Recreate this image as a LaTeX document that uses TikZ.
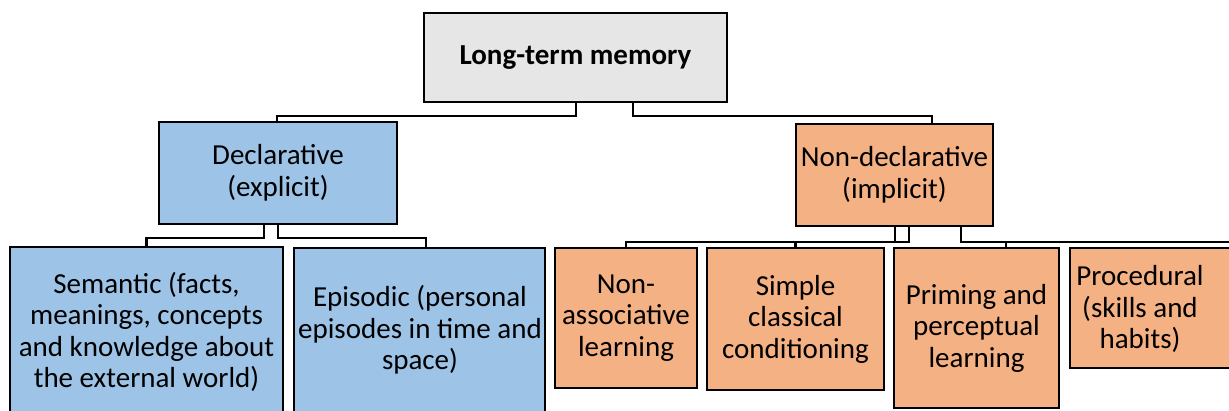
\documentclass[tikz,border=0pt]{standalone}
\usepackage{fontspec}
\setmainfont{Carlito}
\usetikzlibrary{calc}
\definecolor{rootgray}{HTML}{E6E6E6}
\definecolor{declblue}{HTML}{9DC3E6}
\definecolor{implorange}{HTML}{F4B183}

\begin{document}
\begin{tikzpicture}[x=1pt,y=-1pt,
  box/.style={draw=black, line width=2.8pt, inner sep=0pt, align=center,
              font=\fontsize{29}{31.5}\selectfont},
  lbl/.style={inner sep=0pt, align=center, font=\fontsize{29}{31.5}\selectfont},
  link/.style={draw=black, line width=2.1pt}]
\useasboundingbox (0,0) rectangle (1229,410);
\clip (0,0) rectangle (1229,410);

% root
\node[box, fill=rootgray, minimum width=303pt, minimum height=89pt] (ltm) at (575.5,57.5)
  {\bfseries Long-term memory};

% second level
\node[box, fill=declblue, minimum width=238pt, minimum height=102pt] (decl) at (278,173)
  {Declarative\\(explicit)};
\node[box, fill=implorange, minimum width=197pt, minimum height=102pt] (nondecl) at (894.5,175)
  {Non-declarative\\(implicit)};

% declarative branch
\node[box, fill=declblue, minimum width=273pt, minimum height=168pt] (sem) at (146.5,331) {};
\node[lbl] (sem-t) at (146.5,332)
  {Semantic (facts,\\meanings, concepts\\and knowledge about\\the external world)};
\node[box, fill=declblue, minimum width=251pt, minimum height=167pt] (epi) at (419.5,331.5) {};
\node[lbl] (epi-t) at (420,330)
  {Episodic (personal\\episodes in time and\\space)};

% non-declarative branch
\node[box, fill=implorange, minimum width=142pt, minimum height=140pt] (nonassoc) at (626,318)
  {Non-\\associative\\learning};
\node[box, fill=implorange, minimum width=177pt, minimum height=142pt] (classic) at (795.5,319)
  {Simple\\classical\\conditioning};
\node[box, fill=implorange, minimum width=165pt, minimum height=160pt] (priming) at (976.5,328)
  {Priming and\\perceptual\\learning};
\node[box, fill=implorange, minimum width=180pt, minimum height=120pt] (proc) at (1160,308) {};
\node[lbl] (proc-t) at (1140,309)
  {Procedural\\(skills and\\habits)};

% connectors
\draw[link] ($(ltm.south)+(0.5,0)$) -- ++(0,13) -| ($(decl.north)+(-1,0)$);
\draw[link] ($(ltm.south)+(57.5,0)$) -- ++(0,13) -| ($(nondecl.north)+(37.5,0)$);

\draw[link] ($(decl.south)+(-14,0)$) -- ++(0,13) -| (sem.north);
\draw[link] ($(decl.south)+(0,0)$) -- ++(0,13) -| ($(epi.north)+(6.5,0)$);

\draw[link] ($(nondecl.south)+(0.5,0)$) -- ++(0,15) -| (nonassoc.north);
\draw[link] ($(nondecl.south)+(14.5,0)$) -- ++(0,15) -| (classic.north);
\draw[link] ($(nondecl.south)+(66.5,0)$) -- ++(0,15) -| ($(priming.north)+(29.5,0)$);
\draw[link] ($(nondecl.south)+(66.5,0)$) -- ++(0,15) -| ($(proc.north)+(80,0)$);
\end{tikzpicture}
\end{document}
